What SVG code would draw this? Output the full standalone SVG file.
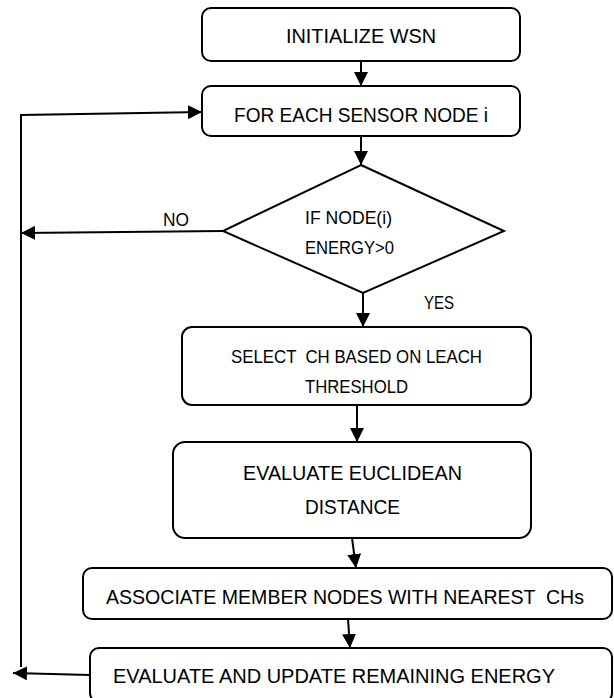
<svg xmlns="http://www.w3.org/2000/svg" width="614" height="698" viewBox="0 0 614 698">
<defs>
<marker id="ah" markerUnits="userSpaceOnUse" markerWidth="14" markerHeight="14" refX="14" refY="7" orient="auto">
<path d="M0,0 L14,7 L0,14 z" fill="#000"/>
</marker>
<style>
.box{fill:#fff;stroke:#000;stroke-width:2}
.t{font-family:"Liberation Sans",Arial,sans-serif;fill:#000;text-anchor:middle}
.s{font-family:"Liberation Sans",Arial,sans-serif;fill:#000;text-anchor:start}
.c{fill:none;stroke:#000;stroke-width:2;marker-end:url(#ah)}
.l{fill:none;stroke:#000;stroke-width:2}
</style>
</defs>
<rect width="614" height="698" fill="#fff"/>
<g id="connectors">
<path class="c" d="M361,61 L361,86"/>
<path class="c" d="M361,136 L361,165"/>
<path class="c" d="M223,231 L21,233"/>
<path class="c" d="M363,293 L363,327"/>
<path class="c" d="M357,405 L357,442"/>
<path class="c" d="M352,538 L356,568"/>
<path class="c" d="M348,619 L350,648"/>
<path class="c" d="M21,667 L21,115 L202,112"/>
<path class="c" d="M90,675 L13,673"/>
</g>
<g id="n1">
<rect class="box" x="202" y="8" width="318" height="53" rx="9"/>
<text class="t" x="361" y="42.5" font-size="19.5" textLength="150" lengthAdjust="spacingAndGlyphs">INITIALIZE WSN</text>
</g>
<g id="n2">
<rect class="box" x="202" y="86" width="318" height="50" rx="9"/>
<text class="t" x="361" y="122" font-size="19.5" textLength="254" lengthAdjust="spacingAndGlyphs">FOR EACH SENSOR NODE i</text>
</g>
<g id="n3">
<polygon class="box" points="361,165 504,231 363,293 223,231"/>
<text class="s" x="305" y="224" font-size="18" textLength="87" lengthAdjust="spacingAndGlyphs">IF NODE(i)</text>
<text class="s" x="305" y="254" font-size="18" textLength="89" lengthAdjust="spacingAndGlyphs">ENERGY&gt;0</text>
</g>
<g id="lbl-no">
<text class="t" x="176" y="226" font-size="18" textLength="26" lengthAdjust="spacingAndGlyphs">NO</text>
</g>
<g id="lbl-yes">
<text class="s" x="424" y="309" font-size="18" textLength="30" lengthAdjust="spacingAndGlyphs">YES</text>
</g>
<g id="n4">
<rect class="box" x="182" y="327" width="349" height="78" rx="10"/>
<text class="t" x="356.5" y="363" font-size="18" textLength="251" lengthAdjust="spacingAndGlyphs" xml:space="preserve">SELECT  CH BASED ON LEACH</text>
<text class="t" x="356.5" y="393" font-size="18" textLength="103" lengthAdjust="spacingAndGlyphs">THRESHOLD</text>
</g>
<g id="n5">
<rect class="box" x="173" y="442" width="358" height="96" rx="12"/>
<text class="t" x="352.5" y="480" font-size="19.5" textLength="219" lengthAdjust="spacingAndGlyphs">EVALUATE EUCLIDEAN</text>
<text class="t" x="352.5" y="514" font-size="19.5" textLength="95" lengthAdjust="spacingAndGlyphs">DISTANCE</text>
</g>
<g id="n6">
<rect class="box" x="83" y="568" width="529" height="51" rx="9"/>
<text class="t" x="345" y="604" font-size="19.5" textLength="478" lengthAdjust="spacingAndGlyphs" xml:space="preserve">ASSOCIATE MEMBER NODES WITH NEAREST  CHs</text>
</g>
<g id="n7">
<rect class="box" x="90" y="648" width="522" height="54" rx="9"/>
<text class="t" x="334" y="683" font-size="19.5" textLength="442" lengthAdjust="spacingAndGlyphs">EVALUATE AND UPDATE REMAINING ENERGY</text>
</g>
</svg>
